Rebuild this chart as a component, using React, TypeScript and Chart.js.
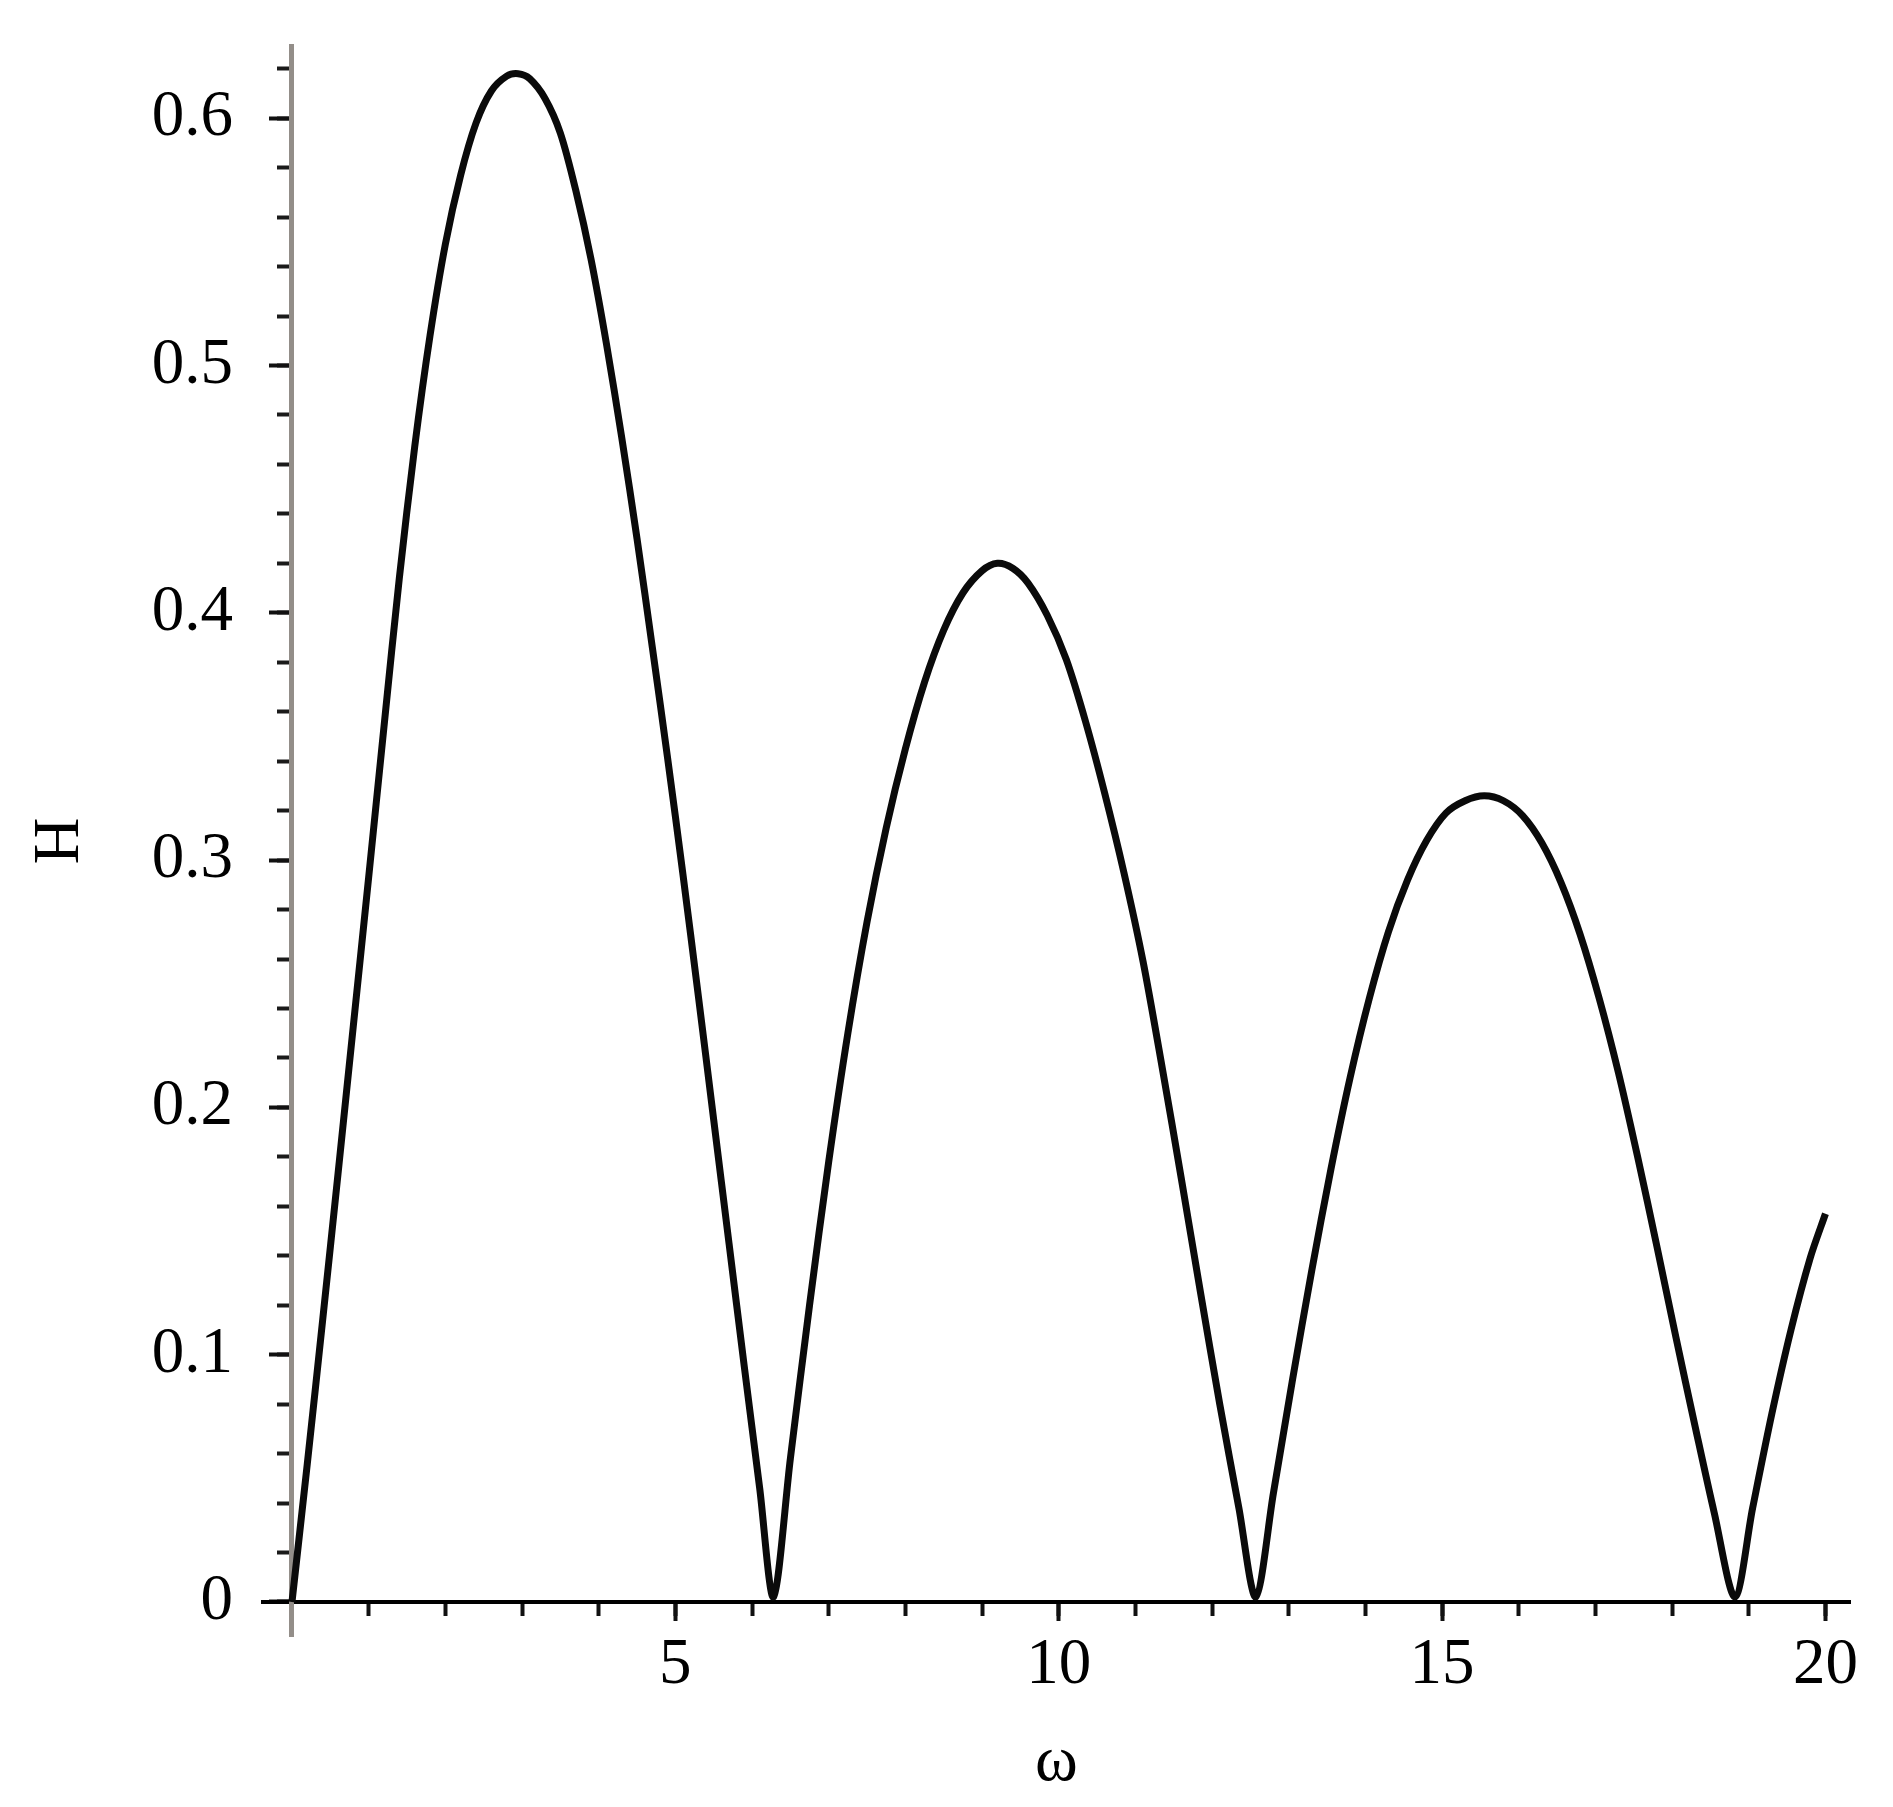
import React, { useEffect, useRef } from "react";
import { Chart, registerables } from "chart.js";

Chart.register(...registerables);

// ω values
const OMEGA = [
  0, 0.2, 0.4, 0.6, 0.8, 1.0, 1.2, 1.4, 1.6, 1.8, 2.0, 2.2, 2.4, 2.6, 2.8, 2.95, 3.1, 3.3, 3.5, 3.7, 3.9,
  4.1, 4.3, 4.5, 4.7, 4.9, 5.1, 5.3, 5.5, 5.7, 5.9, 6.1, 6.28,
  6.5, 6.75, 7.0, 7.25, 7.5, 7.75, 8.0, 8.25, 8.5, 8.75, 9.0, 9.2, 9.4, 9.6, 9.85, 10.1, 10.35, 10.6,
  10.85, 11.1, 11.35, 11.6, 11.85, 12.1, 12.35, 12.57,
  12.8, 13.05, 13.3, 13.55, 13.8, 14.05, 14.3, 14.55, 14.8, 15.05, 15.3, 15.55, 15.8, 16.05, 16.3, 16.55,
  16.8, 17.05, 17.3, 17.55, 17.8, 18.05, 18.3, 18.55, 18.82, 19.05, 19.3, 19.55, 19.8, 20.0,
];

// H values
const H_VALUES = [
  0, 0.056, 0.114, 0.173, 0.233, 0.293, 0.354, 0.414, 0.467, 0.512, 0.549, 0.577, 0.598, 0.611, 0.617, 0.618,
  0.616, 0.608, 0.594, 0.571, 0.543, 0.509, 0.471, 0.43, 0.386, 0.341, 0.294, 0.245, 0.195, 0.145, 0.095,
  0.046, 0.002,
  0.058, 0.12, 0.178, 0.23, 0.275, 0.313, 0.345, 0.372, 0.393, 0.408, 0.417, 0.42, 0.418, 0.412, 0.399,
  0.381, 0.356, 0.327, 0.295, 0.259, 0.216, 0.171, 0.125, 0.08, 0.038, 0.002,
  0.044, 0.09, 0.134, 0.175, 0.212, 0.244, 0.271, 0.292, 0.308, 0.319, 0.324, 0.326, 0.324, 0.318, 0.307,
  0.291, 0.27, 0.244, 0.214, 0.18, 0.144, 0.107, 0.071, 0.036, 0.002, 0.038, 0.076, 0.11, 0.139, 0.157,
];

const X_MAJOR_TICKS = [5, 10, 15, 20];
const X_MINOR_TICKS = [0, 1, 2, 3, 4, 5, 6, 7, 8, 9, 10, 11, 12, 13, 14, 15, 16, 17, 18, 19, 20];
const Y_MAJOR_TICKS = [0, 0.1, 0.2, 0.3, 0.4, 0.5, 0.6];
const Y_MINOR_TICKS = Array.from({ length: 32 }, (_, i) => (i * 2) / 100);
const X_TITLE = "ω";
const Y_TITLE = "H";

const X_MIN = -0.378;
const X_MAX = 20.32;
const Y_MIN = -0.01375;
const Y_MAX = 0.6292;

const FONT_FAMILY = "'Liberation Serif', 'Times New Roman', serif";
const FONT_SIZE = 65;

export default function App() {
  const canvasRef = useRef<HTMLCanvasElement | null>(null);

  useEffect(() => {
    const canvas = canvasRef.current;
    if (!canvas) return;
    const points = OMEGA.map((w, i) => ({ x: w, y: H_VALUES[i] }));
    const setTicks = (vals: number[]) => (scale: any) => {
      scale.ticks = vals.map((v) => ({ value: v }));
    };
    const hidden = { display: false, drawTicks: false, tickLength: 0 };

    const chart = new Chart(canvas, {
      type: "scatter",
      data: {
        datasets: [
          {
            data: points,
            showLine: true,
            borderColor: "#0a0a0a",
            borderWidth: 7,
            pointRadius: 0,
            pointHoverRadius: 0,
            tension: 0.3,
            borderJoinStyle: "round",
            xAxisID: "x",
            yAxisID: "y",
          },
        ],
      },
      options: {
        animation: false,
        responsive: false,
        maintainAspectRatio: false,
        devicePixelRatio: 1,
        layout: { padding: { left: 263, right: 43, top: 46, bottom: 171 } },
        plugins: { legend: { display: false }, tooltip: { enabled: false } },
        scales: {
          x: {
            type: "linear",
            axis: "x",
            position: { y: 0 },
            min: X_MIN,
            max: X_MAX,
            afterBuildTicks: setTicks(X_MINOR_TICKS),
            ticks: { display: false },
            grid: { display: true, drawOnChartArea: false, drawTicks: true, tickLength: 12, tickWidth: 4, tickColor: "#111" },
            border: { display: true, color: "#000", width: 4 },
          },
          x2: {
            type: "linear",
            axis: "x",
            position: { y: 0 },
            min: X_MIN,
            max: X_MAX,
            afterBuildTicks: setTicks(X_MAJOR_TICKS),
            ticks: { display: false },
            grid: { display: true, drawOnChartArea: false, drawTicks: true, tickLength: 19, tickWidth: 4, tickColor: "#111" },
            border: { display: false },
          },
          xl: {
            type: "linear",
            axis: "x",
            position: { y: -0.0099 },
            min: X_MIN,
            max: X_MAX,
            afterBuildTicks: setTicks(X_MAJOR_TICKS),
            ticks: {
              display: true,
              padding: 0,
              maxRotation: 0,
              autoSkip: false,
              color: "#000",
              font: { family: FONT_FAMILY, size: FONT_SIZE },
              callback: (v: any) => String(v),
            },
            grid: hidden,
            border: { display: false },
            title: {
              display: true,
              text: X_TITLE,
              color: "#000",
              font: { family: FONT_FAMILY, size: FONT_SIZE },
              padding: { top: 19, bottom: 0 },
            },
          },
          y: {
            type: "linear",
            axis: "y",
            position: { x: 0 },
            min: Y_MIN,
            max: Y_MAX,
            afterBuildTicks: setTicks(Y_MINOR_TICKS),
            ticks: { display: false },
            grid: { display: true, drawOnChartArea: false, drawTicks: true, tickLength: 12, tickWidth: 4, tickColor: "#1a1a1a" },
            border: { display: true, color: "#938e89", width: 5 },
          },
          y2: {
            type: "linear",
            axis: "y",
            position: { x: 0 },
            min: Y_MIN,
            max: Y_MAX,
            afterBuildTicks: setTicks(Y_MAJOR_TICKS),
            ticks: { display: false },
            grid: { display: true, drawOnChartArea: false, drawTicks: true, tickLength: 23, tickWidth: 4, tickColor: "#111" },
            border: { display: false },
          },
          yl: {
            type: "linear",
            axis: "y",
            position: { x: -0.7695 },
            min: Y_MIN,
            max: Y_MAX,
            afterBuildTicks: setTicks(Y_MAJOR_TICKS),
            ticks: {
              display: true,
              padding: 0,
              autoSkip: false,
              color: "#000",
              font: { family: FONT_FAMILY, size: FONT_SIZE },
              callback: (v: any) => (v === 0 ? "0" : Number(v).toFixed(1)),
            },
            grid: hidden,
            border: { display: false },
            title: {
              display: true,
              text: Y_TITLE,
              color: "#000",
              font: { family: FONT_FAMILY, size: FONT_SIZE },
              padding: { top: 61, bottom: 0 },
            },
          },
        },
      } as any,
    });
    return () => chart.destroy();
  }, []);

  return (
    <div style={{ position: "absolute", left: 0, top: 0, width: 1893, height: 1807, background: "#fff" }}>
      <canvas ref={canvasRef} width={1893} height={1807} style={{ display: "block", width: 1893, height: 1807 }} />
    </div>
  );
}
